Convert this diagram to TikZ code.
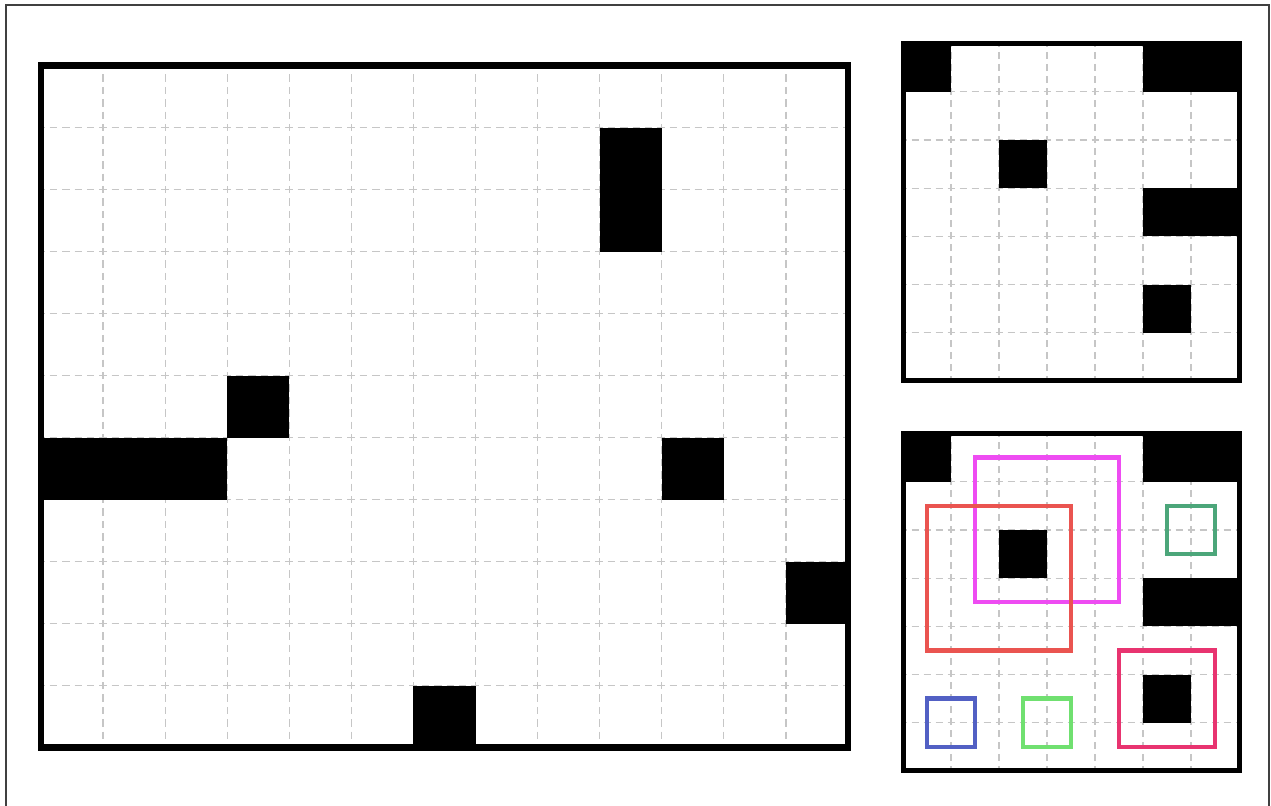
\documentclass[tikz,border=0pt]{standalone}
\definecolor{winmagenta}{RGB}{238,76,242}
\definecolor{winred}{RGB}{234,84,80}
\definecolor{winteal}{RGB}{76,166,122}
\definecolor{wincrimson}{RGB}{232,52,112}
\definecolor{winblue}{RGB}{82,96,196}
\definecolor{winlime}{RGB}{112,224,112}
% small 7x7 map, used twice
\newcommand{\smallmap}{%
  \foreach \k in {1,...,6} {
    \draw[gridline,dash pattern=on 7bp off 5bp,dash phase=3.5bp] (\k,0) -- (\k,7);
    \draw[gridline,dash pattern=on 7bp off 5bp,dash phase=3.5bp] (0,\k) -- (7,\k);
  }
  \fill (0,0) rectangle (1,1);
  \fill (5,0) rectangle (7,1);
  \fill (2,2) rectangle (3,3);
  \fill (5,3) rectangle (7,4);
  \fill (5,5) rectangle (6,6);
  \draw[line width=5bp] (0,0) rectangle (7,7);
}
\begin{document}
\begin{tikzpicture}[x=1bp,y=-1bp,
  gridline/.style={draw=gray!45,line width=1.2bp},
  window/.style={line width=4.5bp}]
  \path[use as bounding box] (0,0) rectangle (1271,806);
  \fill[white] (0,0) rectangle (1271,806);
  \draw[black!75,line width=1.2bp] (6,806) -- (6,5) -- (1269,5) -- (1269,806);

  % large map
  \begin{scope}[shift={(41,65.7)},x=62.08bp,y=-62bp,
      gridline/.append style={dash pattern=on 7.4bp off 5bp,dash phase=3.7bp}]
    \foreach \i in {1,...,12} \draw[gridline] (\i,0) -- (\i,11);
    \foreach \j in {1,...,10} \draw[gridline] (0,\j) -- (13,\j);
    \fill (9,1) rectangle (10,3);
    \fill (3,5) rectangle (4,6);
    \fill (0,6) rectangle (3,7);
    \fill (10,6) rectangle (11,7);
    \fill (12,8) rectangle (13,9);
    \fill (6,10) rectangle (7,11);
    \draw[line width=6.5bp] (0,0) rectangle (13,11);
  \end{scope}

  % top right map
  \begin{scope}[shift={(903,43.5)},x=48bp,y=-48.2bp]
    \smallmap
  \end{scope}

  % bottom right map with windows
  \begin{scope}[shift={(903,433.5)},x=48bp,y=-48.2bp]
    \smallmap
    \draw[window,winmagenta] (1.5,0.5) rectangle (4.5,3.5);
    \draw[window,winred] (0.5,1.5) rectangle (3.5,4.5);
    \draw[window,winteal] (5.5,1.5) rectangle (6.5,2.5);
    \draw[window,wincrimson] (4.5,4.5) rectangle (6.5,6.5);
    \draw[window,winblue] (0.5,5.5) rectangle (1.5,6.5);
    \draw[window,winlime] (2.5,5.5) rectangle (3.5,6.5);
  \end{scope}
\end{tikzpicture}
\end{document}
